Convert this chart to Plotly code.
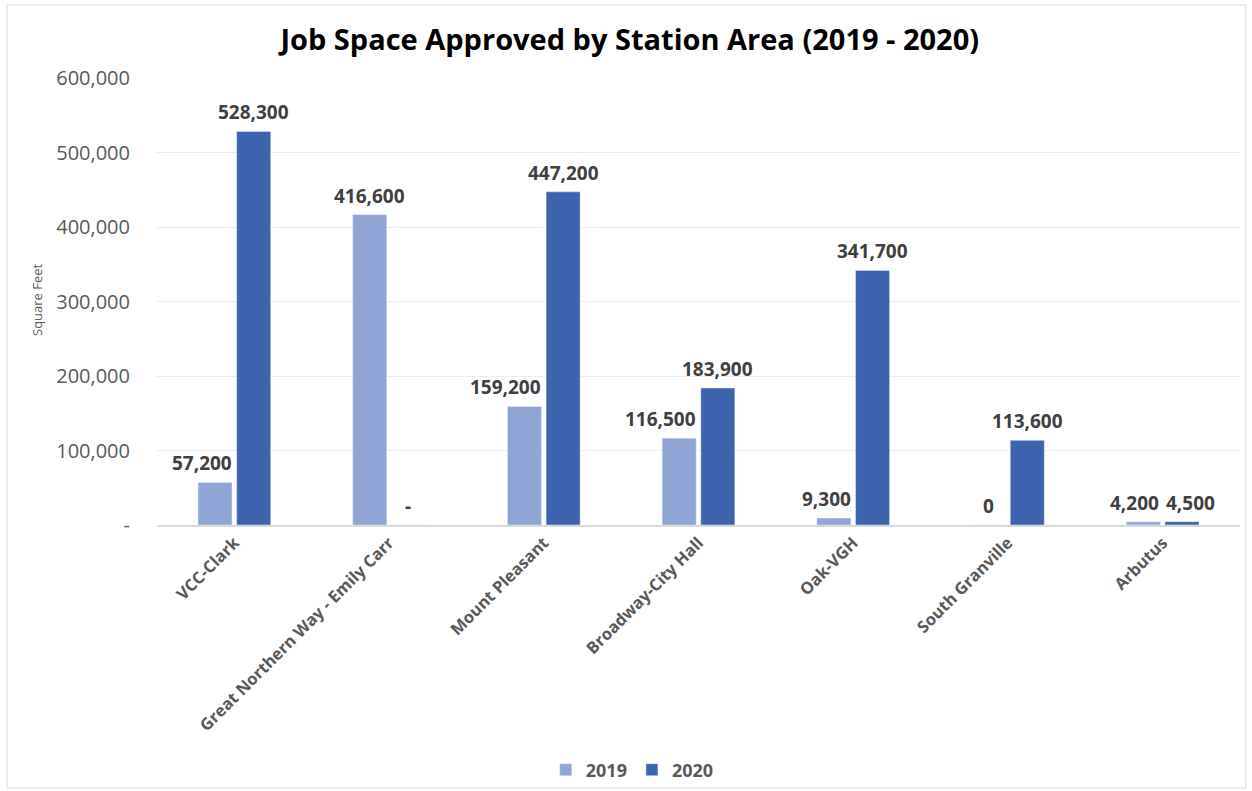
import plotly.graph_objects as go

categories = ["VCC-Clark", "Great Northern Way - Emily Carr", "Mount Pleasant",
              "Broadway-City Hall", "Oak-VGH", "South Granville", "Arbutus"]
values_2019 = [57200, 416600, 159200, 116500, 9300, 0, 4200]
values_2020 = [528300, 0, 447200, 183900, 341700, 113600, 4500]
labels_2019 = ["57,200", "416,600", "159,200", "116,500", "9,300", "0", "4,200"]
labels_2020 = ["528,300", "-", "447,200", "183,900", "341,700", "113,600", "4,500"]
tick_vals = [0, 100000, 200000, 300000, 400000, 500000, 600000]
tick_text = ["-", "100,000", "200,000", "300,000", "400,000", "500,000", "600,000"]

W, H = 1252, 791
L, R, T, B = 157, 12, 78, 266
pw, ph = W - L - R, H - T - B
BARGAP = 0.5
GROUPGAP = 0.12

FONT = "Open Sans"
label_font = dict(family=FONT, size=19, color="#404040", weight="bold")

fig = go.Figure()
fig.add_trace(go.Bar(name="2019", x=categories, y=values_2019,
                     marker_color="#8FA5D6", cliponaxis=False))
fig.add_trace(go.Bar(name="2020", x=categories, y=values_2020,
                     marker_color="#3C64AE", cliponaxis=False))

def px_x(x):
    return (x - L) / pw

def px_y(y):
    return (H - B - y) / ph

# data labels as annotations (drawn on top of all bars)
slot = pw / len(categories) * (1 - BARGAP) / 2
inner_edge = slot * GROUPGAP / 2          # left edge of the 2020 bar, from category centre
annotations = []
for i, cat in enumerate(categories):
    v1, v2 = values_2019[i], values_2020[i]
    close = v1 > 0 and v2 > 0 and abs(v1 - v2) < 20000
    # 2019 label
    if v2 > v1 + 20000 and v1 > 0:
        a1 = dict(xanchor="right", xshift=inner_edge - 3)
    else:
        a1 = dict(xanchor="center", xshift=-(slot / 2 + (9 if close else 0)))
    annotations.append(dict(x=cat, y=v1, text=labels_2019[i], showarrow=False,
                            xref="x", yref="y", yanchor="bottom", yshift=4,
                            font=label_font, **a1))
    # 2020 label
    annotations.append(dict(x=cat, y=v2, text=labels_2020[i], showarrow=False,
                            xref="x", yref="y", xanchor="center", yanchor="bottom",
                            xshift=slot / 2 + (9 if close else 0), yshift=4,
                            font=label_font))

annotations.append(dict(text="Square Feet", textangle=-90, x=px_x(37), y=px_y(300),
                        xref="paper", yref="paper", showarrow=False,
                        xanchor="center", yanchor="middle",
                        font=dict(family=FONT, size=13, color="#595959")))

fig.update_layout(
    width=W, height=H,
    margin=dict(l=L, r=R, t=T, b=B),
    paper_bgcolor="white", plot_bgcolor="white",
    barmode="group", bargap=BARGAP, bargroupgap=GROUPGAP,
    title=dict(text="<b>Job Space Approved by Station Area (2019 - 2020)</b>",
               x=0.503, xref="container", xanchor="center",
               y=1 - 40 / H, yanchor="middle",
               font=dict(family=FONT, size=29, color="#000000")),
    font=dict(family=FONT, color="#595959"),
    showlegend=True,
    legend=dict(orientation="h", x=0.505, xanchor="center",
                xref="container", y=1 - 770 / H, yref="container", yanchor="middle",
                bgcolor="rgba(0,0,0,0)",
                font=dict(family=FONT, size=18, color="#595959", weight="bold"),
                itemwidth=30, traceorder="normal"),
    xaxis=dict(tickangle=-45,
               tickfont=dict(family=FONT, size=16.5, color="#595959", weight="bold"),
               showline=True, linecolor="#D9D9D9", linewidth=1.5, ticks="",
               showgrid=False),
    yaxis=dict(range=[0, 600000], tickvals=tick_vals, ticktext=tick_text,
               tickfont=dict(family=FONT, size=20, color="#595959"),
               showgrid=True, gridcolor="#EBEBEB", gridwidth=1,
               zeroline=False, showline=False, ticks="", ticklabelstandoff=26),
    annotations=annotations,
    shapes=[dict(type="rect", xref="paper", yref="paper",
                 x0=px_x(7), x1=px_x(1246), y0=px_y(788), y1=px_y(5),
                 line=dict(color="#D9D9D9", width=1), fillcolor="rgba(0,0,0,0)",
                 layer="below")],
)

fig.write_html("out.html")
